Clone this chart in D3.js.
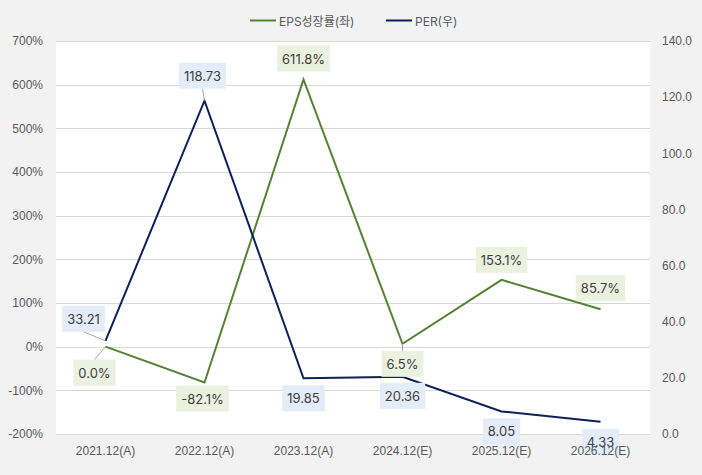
<!DOCTYPE html>
<html><head><meta charset="utf-8">
<script src="https://cdn.jsdelivr.net/npm/d3@7"></script>
<style>
html,body{margin:0;padding:0;background:#f2f2f2;}
svg{display:block;font-family:Inter,Roboto,"Noto Sans CJK KR",sans-serif;}
</style></head><body>
<svg id="c" width="702" height="475"></svg>
<script>
const categories = ["2021.12(A)","2022.12(A)","2023.12(A)","2024.12(E)","2025.12(E)","2026.12(E)"];
const epsGrowth = [0.0, -82.1, 611.8, 6.5, 153.1, 85.7];
const per = [33.21, 118.73, 19.85, 20.36, 8.05, 4.33];
const leftTicks = [-200,-100,0,100,200,300,400,500,600,700];
const rightTicks = [0,20,40,60,80,100,120,140];
const epsLabels = ["0.0%","-82.1%","611.8%","6.5%","153.1%","85.7%"];
const perLabels = ["33.21","118.73","19.85","20.36","8.05","4.33"];

const svg = d3.select("#c");
const L = 56, R = 650, T = 41, B = 434;
const x = d3.scaleBand().domain(categories).range([L, R]);
const yL = d3.scaleLinear().domain([-200, 700]).range([B, T]);
const yR = d3.scaleLinear().domain([0, 140]).range([B, T]);
const cx = c => x(c) + x.bandwidth()/2;

svg.append("rect").attr("x",L).attr("y",T).attr("width",R-L).attr("height",B-T).attr("fill","#fff");

// gridlines
svg.append("g").selectAll("line").data(leftTicks).join("line")
  .attr("x1",L).attr("x2",R).attr("y1",d=>Math.round(yL(d))+0.5).attr("y2",d=>Math.round(yL(d))+0.5)
  .attr("stroke","#d9d9d9").attr("stroke-width",1);

const tickColor = "#595959";
// left axis
const gl = svg.append("g").attr("transform",`translate(${L},0)`)
  .call(d3.axisLeft(yL).tickValues(leftTicks).tickSize(0).tickPadding(13).tickFormat(d=>d+"%"));
gl.select(".domain").remove();
gl.selectAll("text").attr("fill",tickColor).style("font-size","12px").style("font-family","inherit");
// right axis
const gr = svg.append("g").attr("transform",`translate(${R},0)`)
  .call(d3.axisRight(yR).tickValues(rightTicks).tickSize(0).tickPadding(12).tickFormat(d3.format(".1f")));
gr.select(".domain").remove();
gr.selectAll("text").attr("fill",tickColor).style("font-size","12px").style("font-family","inherit");

const green = "#548235", navy = "#0c2157";
const lineL = d3.line().x((d,i)=>cx(categories[i])).y(d=>yL(d));
const lineR = d3.line().x((d,i)=>cx(categories[i])).y(d=>yR(d));

// label offsets (dx, dy of label center from point)
const epsOff = [[-11,26],[-2,16],[0,-21],[0,20],[0,-20],[0,-21]];
const perOff = [[-22,-22],[-2,-25],[0,20],[0,19],[0,20],[0,20]];
const epsLeader = [true,false,false,true,false,false];
const perLeader = [true,true,false,false,false,false];

function labels(vals, texts, scale, off, leader, fill){
  const g = svg.append("g");
  vals.forEach((v,i)=>{
    const px = cx(categories[i]), py = scale(v);
    const lx = px + off[i][0], ly = py + off[i][1];
    const t = g.append("text").attr("x",lx).attr("y",ly).attr("text-anchor","middle")
      .attr("dominant-baseline","central").attr("fill","#404040").style("font-size","13px").text(texts[i]);
    const bb = t.node().getBBox();
    const w = bb.width + 10, h = 26;
    if (leader[i]) {
      const ey = ly + (off[i][1] > 0 ? -h/2 : h/2);
      g.insert("line","text").attr("x1",lx).attr("y1",ey).attr("x2",px).attr("y2",py)
        .attr("stroke","#a6a6a6").attr("stroke-width",1);
    }
    g.insert("rect","text").attr("x",lx-w/2).attr("y",ly-h/2).attr("width",w).attr("height",h).attr("fill",fill);
  });
}

svg.append("path").datum(epsGrowth).attr("d",lineL).attr("fill","none").attr("stroke",green).attr("stroke-width",2);
svg.append("path").datum(per).attr("d",lineR).attr("fill","none").attr("stroke",navy).attr("stroke-width",2);

labels(epsGrowth, epsLabels, yL, epsOff, epsLeader, "#ebf1de");
labels(per, perLabels, yR, perOff, perLeader, "#e3ecf8");

// bottom axis (drawn on top of labels)
const gb = svg.append("g").attr("transform",`translate(0,${B})`)
  .call(d3.axisBottom(x).tickSize(0).tickPadding(12));
gb.select(".domain").remove();
gb.selectAll("text").attr("fill",tickColor).style("font-size","12px").style("font-family","inherit");

// legend
const leg = svg.append("g");
const items = [{name:"EPS성장률(좌)", color:green, x:250},{name:"PER(우)", color:navy, x:386}];
items.forEach(it=>{
  leg.append("line").attr("x1",it.x).attr("x2",it.x+26).attr("y1",20.5).attr("y2",20.5).attr("stroke",it.color).attr("stroke-width",2);
  leg.append("text").attr("x",it.x+29).attr("y",21).attr("dominant-baseline","central").attr("fill",tickColor)
    .style("font-size","12px").text(it.name);
});
</script></body></html>
